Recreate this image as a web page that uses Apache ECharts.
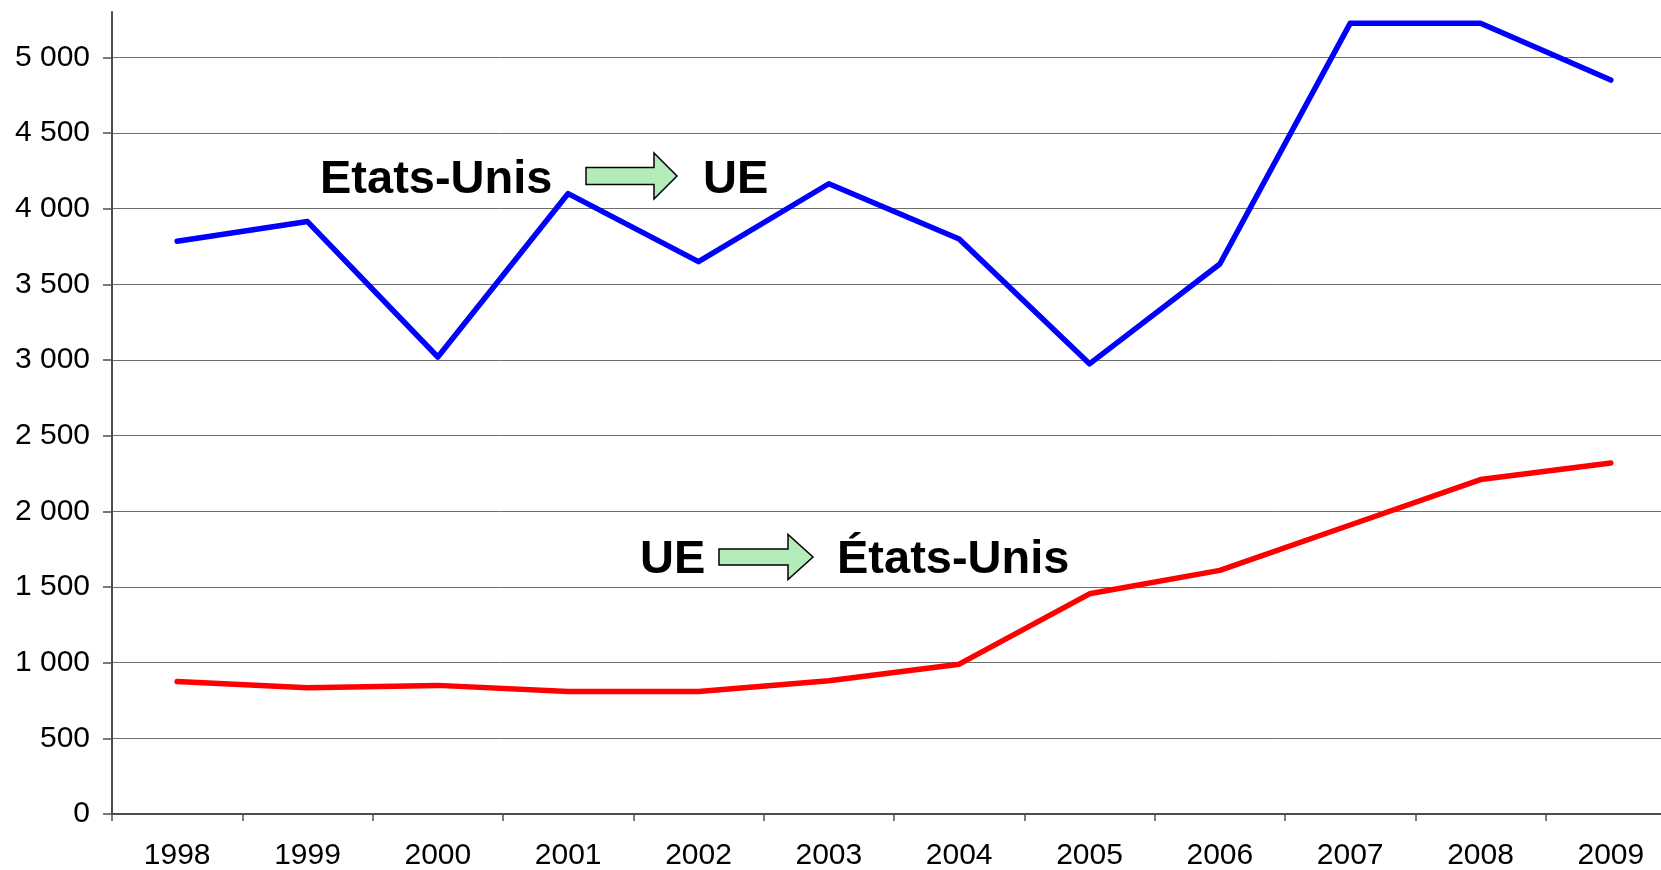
<!DOCTYPE html>
<html>
<head>
<meta charset="utf-8">
<script src="https://cdn.jsdelivr.net/npm/echarts@6/dist/echarts.min.js"></script>
<style>
  html, body { margin: 0; padding: 0; background: #fff; overflow: hidden; }
  #chart { width: 1661px; height: 870px; }
</style>
</head>
<body>
<div id="chart"></div>
<script>
var years = ['1998', '1999', '2000', '2001', '2002', '2003', '2004', '2005', '2006', '2007', '2008', '2009'];
// Etats-Unis -> UE
var usToEu = [3785, 3915, 3020, 4100, 3650, 4165, 3800, 2975, 3635, 5225, 5225, 4850];
// UE -> Etats-Unis
var euToUs = [875, 835, 850, 810, 810, 880, 990, 1455, 1610, 1910, 2210, 2320];
var yTicks = [0, 500, 1000, 1500, 2000, 2500, 3000, 3500, 4000, 4500, 5000];

var font = '"Liberation Sans", Arial, sans-serif';
var axisGray = '#4d4d4d';
var gridGray = '#6e6e6e';

function fmt(v) {
  return String(v).replace(/\B(?=(\d{3})+(?!\d))/g, ' ');
}

// arrow outline as polygon points, body from x0 to headX, tip at x1
function arrow(x0, x1, headX, cy, bodyH, headH) {
  return [[x0, cy - bodyH], [headX, cy - bodyH], [headX, cy - headH], [x1, cy],
    [headX, cy + headH], [headX, cy + bodyH], [x0, cy + bodyH]];
}

var chart = echarts.init(document.getElementById('chart'), null, { renderer: 'canvas' });
chart.setOption({
  animation: false,
  grid: { left: 112, width: 1564, top: 12, bottom: 56, outerBoundsMode: 'none', containLabel: false },
  xAxis: {
    type: 'category', data: years, boundaryGap: true,
    axisLine: { lineStyle: { color: axisGray, width: 2 } },
    axisTick: { show: true, length: 7, lineStyle: { color: axisGray, width: 1.5 } },
    axisLabel: { color: '#000', fontSize: 30, fontFamily: font, margin: 27, interval: 0 },
    splitLine: { show: false }
  },
  yAxis: {
    type: 'value', min: 0, max: 5300, interval: 500,
    axisLine: { show: true, lineStyle: { color: axisGray, width: 2 } },
    axisTick: { show: true, length: 9, customValues: yTicks, lineStyle: { color: axisGray, width: 1.5 } },
    axisLabel: { color: '#000', fontSize: 30, fontFamily: font, margin: 22,
      customValues: yTicks, formatter: fmt },
    splitLine: { show: true, lineStyle: { color: gridGray, width: 1 } }
  },
  series: [
    { name: 'Etats-Unis → UE', type: 'line', data: usToEu, symbol: 'none',
      lineStyle: { color: '#0000ff', width: 5.5, join: 'round', cap: 'round' } },
    { name: 'UE → États-Unis', type: 'line', data: euToUs, symbol: 'none',
      lineStyle: { color: '#ff0000', width: 5.5, join: 'round', cap: 'round' } }
  ],
  graphic: [
    { type: 'text', left: 320, top: 157, style: { text: 'Etats-Unis', fill: '#000',
      font: 'bold 47px ' + font } },
    { type: 'polygon', shape: { points: arrow(586, 677, 654, 176, 8.5, 23) },
      style: { fill: '#b3ecb9', stroke: '#000', lineWidth: 1.5 } },
    { type: 'text', left: 703, top: 157, style: { text: 'UE', fill: '#000',
      font: 'bold 47px ' + font } },
    { type: 'text', left: 640, top: 537, style: { text: 'UE', fill: '#000',
      font: 'bold 47px ' + font } },
    { type: 'polygon', shape: { points: arrow(719, 813, 788, 557, 8, 22.5) },
      style: { fill: '#b3ecb9', stroke: '#000', lineWidth: 1.5 } },
    { type: 'text', left: 837, top: 537, style: { text: 'États-Unis', fill: '#000',
      font: 'bold 47px ' + font } }
  ]
});
window.addEventListener('resize', function() { chart.resize(); });
</script>
</body>
</html>
